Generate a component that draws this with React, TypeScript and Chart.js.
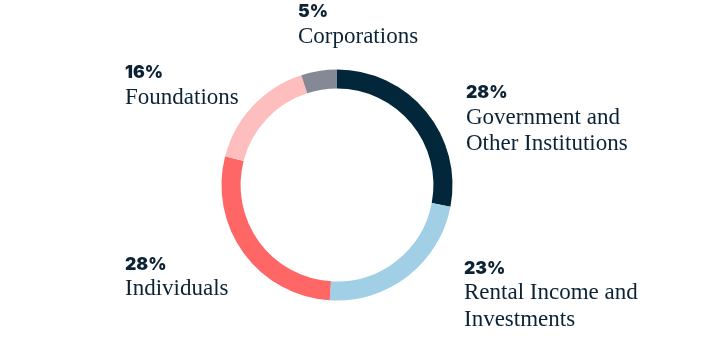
import React, { useEffect, useRef } from "react";
import { Chart, registerables } from "chart.js";

Chart.register(...registerables);

const categories: string[][] = [
  ["Government and", "Other Institutions"],
  ["Rental Income and", "Investments"],
  ["Individuals"],
  ["Foundations"],
  ["Corporations"],
];
const shares: number[] = [28, 23, 28, 16, 5];
const sliceColors: string[] = ["#02273b", "#a0cfe6", "#ff6666", "#ffbebe", "#858996"];

// label anchor: x, baseline of percentage text
const labelAnchors: { x: number; y: number }[] = [
  { x: 466, y: 98 },
  { x: 464, y: 273.5 },
  { x: 125, y: 269.5 },
  { x: 125, y: 78 },
  { x: 298, y: 17 },
];

const TEXT = "#0c2335";

const labelPlugin = {
  id: "sliceLabels",
  afterDraw(chart: any) {
    const ctx = chart.ctx;
    ctx.save();
    ctx.fillStyle = TEXT;
    ctx.textAlign = "left";
    ctx.textBaseline = "alphabetic";
    categories.forEach((lines, i) => {
      const a = labelAnchors[i];
      ctx.font = "900 17.5px Inter";
      ctx.fillText(shares[i] + "%", a.x, a.y);
      ctx.font = "23px 'Liberation Serif'";
      lines.forEach((ln, j) => {
        ctx.fillText(ln, a.x, a.y + 25.5 + j * 26.5);
      });
    });
    ctx.restore();
  },
};

export default function App() {
  const ref = useRef<HTMLCanvasElement>(null);
  useEffect(() => {
    if (!ref.current) return;
    const chart = new Chart(ref.current, {
      type: "doughnut",
      data: {
        labels: categories.map((c) => c.join(" ")),
        datasets: [
          {
            data: shares,
            backgroundColor: sliceColors,
            borderWidth: 0,
            hoverOffset: 0,
          },
        ],
      },
      options: {
        responsive: false,
        animation: false,
        cutout: "83.5%",
        layout: { padding: { left: 221.5, right: 269.5, top: 69.5, bottom: 59.5 } },
        plugins: { legend: { display: false }, tooltip: { enabled: false } },
      },
      plugins: [labelPlugin],
    });
    return () => chart.destroy();
  }, []);
  return (
    <div style={{ position: "fixed", left: 0, top: 0, width: 722, height: 360, background: "#fff" }}>
      <canvas ref={ref} width={722} height={360} />
    </div>
  );
}
